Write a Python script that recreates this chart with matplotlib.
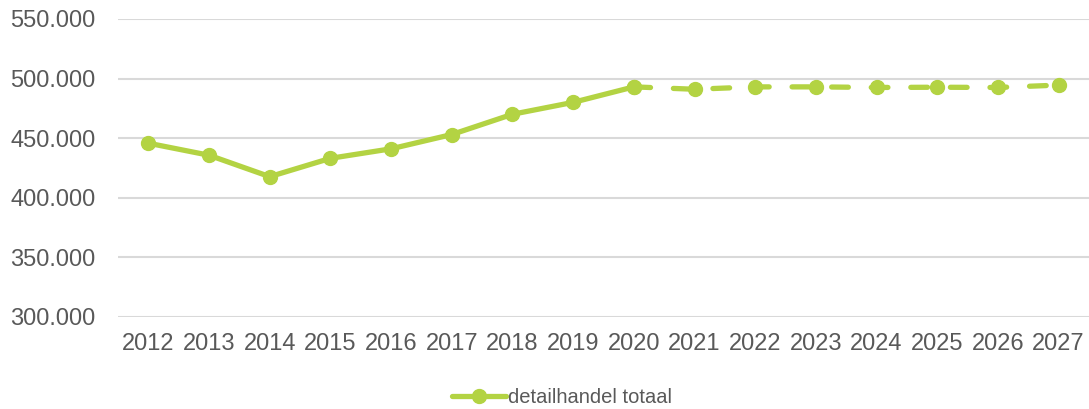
import matplotlib
matplotlib.use("Agg")
import matplotlib.pyplot as plt

# values (x1000)
years = ["2012", "2013", "2014", "2015", "2016", "2017", "2018", "2019",
         "2020", "2021", "2022", "2023", "2024", "2025", "2026", "2027"]
values = [445.7, 435.6, 417.6, 433.0, 441.0, 453.0, 470.0, 480.0,
          493.0, 491.0, 493.0, 493.0, 492.5, 492.7, 492.5, 494.5]
last_actual = "2020"
series_name = "detailhandel totaal"
yticks = [300, 350, 400, 450, 500, 550]

GREEN = "#b3d343"
GREY = "#595959"

plt.rcParams["font.family"] = ["Liberation Sans", "DejaVu Sans"]
plt.rcParams["lines.scale_dashes"] = False

fig = plt.figure(figsize=(10.89, 4.09), dpi=100)
ax = fig.add_axes([118 / 1089, 1 - 316.7 / 409, 1 - 118 / 1089, (316.7 - 19) / 409])

split = years.index(last_actual)
x = list(range(len(years)))

ax.plot(x[:split + 1], values[:split + 1], color=GREEN, lw=3.8,
        marker="o", ms=10, solid_capstyle="round", label=series_name, zorder=3)
ax.plot(x[split:], values[split:], color=GREEN, lw=3.8, dashes=(12, 16.5),
        dash_capstyle="round", zorder=3)
ax.plot(x[split:], values[split:], ls="none", marker="o", ms=10,
        color=GREEN, zorder=4)

ax.set_xlim(-0.5, len(years) - 0.5)
ax.set_ylim(300, 550)
ax.set_xticks(x)
ax.set_xticklabels(years)
ax.set_yticks(yticks)
ax.set_yticklabels([f"{v}.000" for v in yticks])
ax.tick_params(axis="both", length=0, labelsize=17, colors=GREY)
ax.tick_params(axis="x", pad=12)
ax.tick_params(axis="y", pad=16)

ax.grid(axis="y", color="#d9d9d9", lw=1.5)
ax.set_axisbelow(True)
for s in ax.spines.values():
    s.set_visible(False)

fig.legend(loc="center", bbox_to_anchor=(0.516, 0.029), frameon=False,
           fontsize=14.5, handlelength=2.7, handletextpad=0.1,
           labelcolor=GREY)

fig.savefig("out.png", dpi=100)
